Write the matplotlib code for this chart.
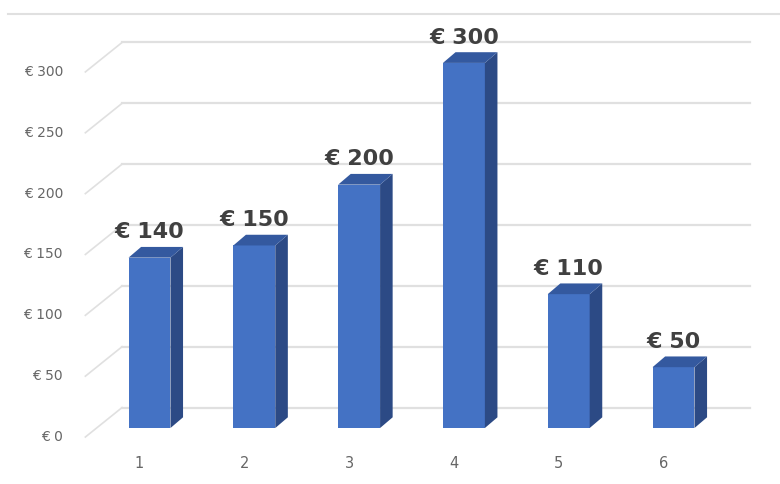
import matplotlib.pyplot as plt
from matplotlib.lines import Line2D

# data
categories = ['1', '2', '3', '4', '5', '6']
values = [140, 150, 200, 300, 110, 50]
ticks = [0, 50, 100, 150, 200, 250, 300]

# pseudo-3D geometry (category units / value units)
bar_w = 0.40
side_dx, side_dy = 0.12, 8.8     # depth of each bar
wall_dx, wall_dy = 0.24, 16.8    # bar front -> back wall
floor_dx, floor_dy = -0.11, -7.4  # bar front -> front edge of floor
wall_left, wall_right = 0.738, 6.73

front_col = '#4472C4'
side_col = '#2C4A85'
top_col = '#34599F'
grid_col = '#E0E0E0'

fig = plt.figure(figsize=(7.8, 4.84), dpi=100)
ax = fig.add_axes([0, 0, 1, 1])
ax.set_xlim(-0.4265, 7.016)
ax.set_ylim(-46.0, 351.7)
ax.axis('off')

# top border line
fig.add_artist(Line2D([0.01, 1.0], [1 - 14 / 484, 1 - 14 / 484],
                      color=grid_col, lw=1.5, transform=fig.transFigure))

# back wall gridlines + diagonal side gridlines
for t in ticks:
    ax.plot([wall_left, wall_right], [t + wall_dy, t + wall_dy], color=grid_col, lw=1.6, zorder=1)
    ax.plot([wall_left - (wall_dx - floor_dx), wall_left], [t + floor_dy, t + wall_dy],
            color=grid_col, lw=1.2, zorder=1)
    ax.text(0.175, t + floor_dy, f'€ {t}', ha='right', va='center',
            fontsize=10, color='#666666')

# bars
for i, (cat, v) in enumerate(zip(categories, values)):
    x0 = i + 1 - bar_w / 2
    x1 = i + 1 + bar_w / 2
    ax.fill([x0, x1, x1, x0], [0, 0, v, v], color=front_col, zorder=3, lw=0)
    ax.fill([x1, x1 + side_dx, x1 + side_dx, x1], [0, side_dy, v + side_dy, v],
            color=side_col, zorder=3, lw=0)
    ax.fill([x0, x1, x1 + side_dx, x0 + side_dx], [v, v, v + side_dy, v + side_dy],
            color=top_col, zorder=3, lw=0)
    ax.text(i + 1, v + side_dy + 7, f'€ {v}', ha='center', va='baseline',
            fontsize=16, fontweight='bold', color='#404040', zorder=4)
    ax.text(i + 1 - 0.095, -28.8, cat, ha='center', va='center',
            fontsize=10.5, color='#666666')

plt.savefig('out.png', dpi=100)
